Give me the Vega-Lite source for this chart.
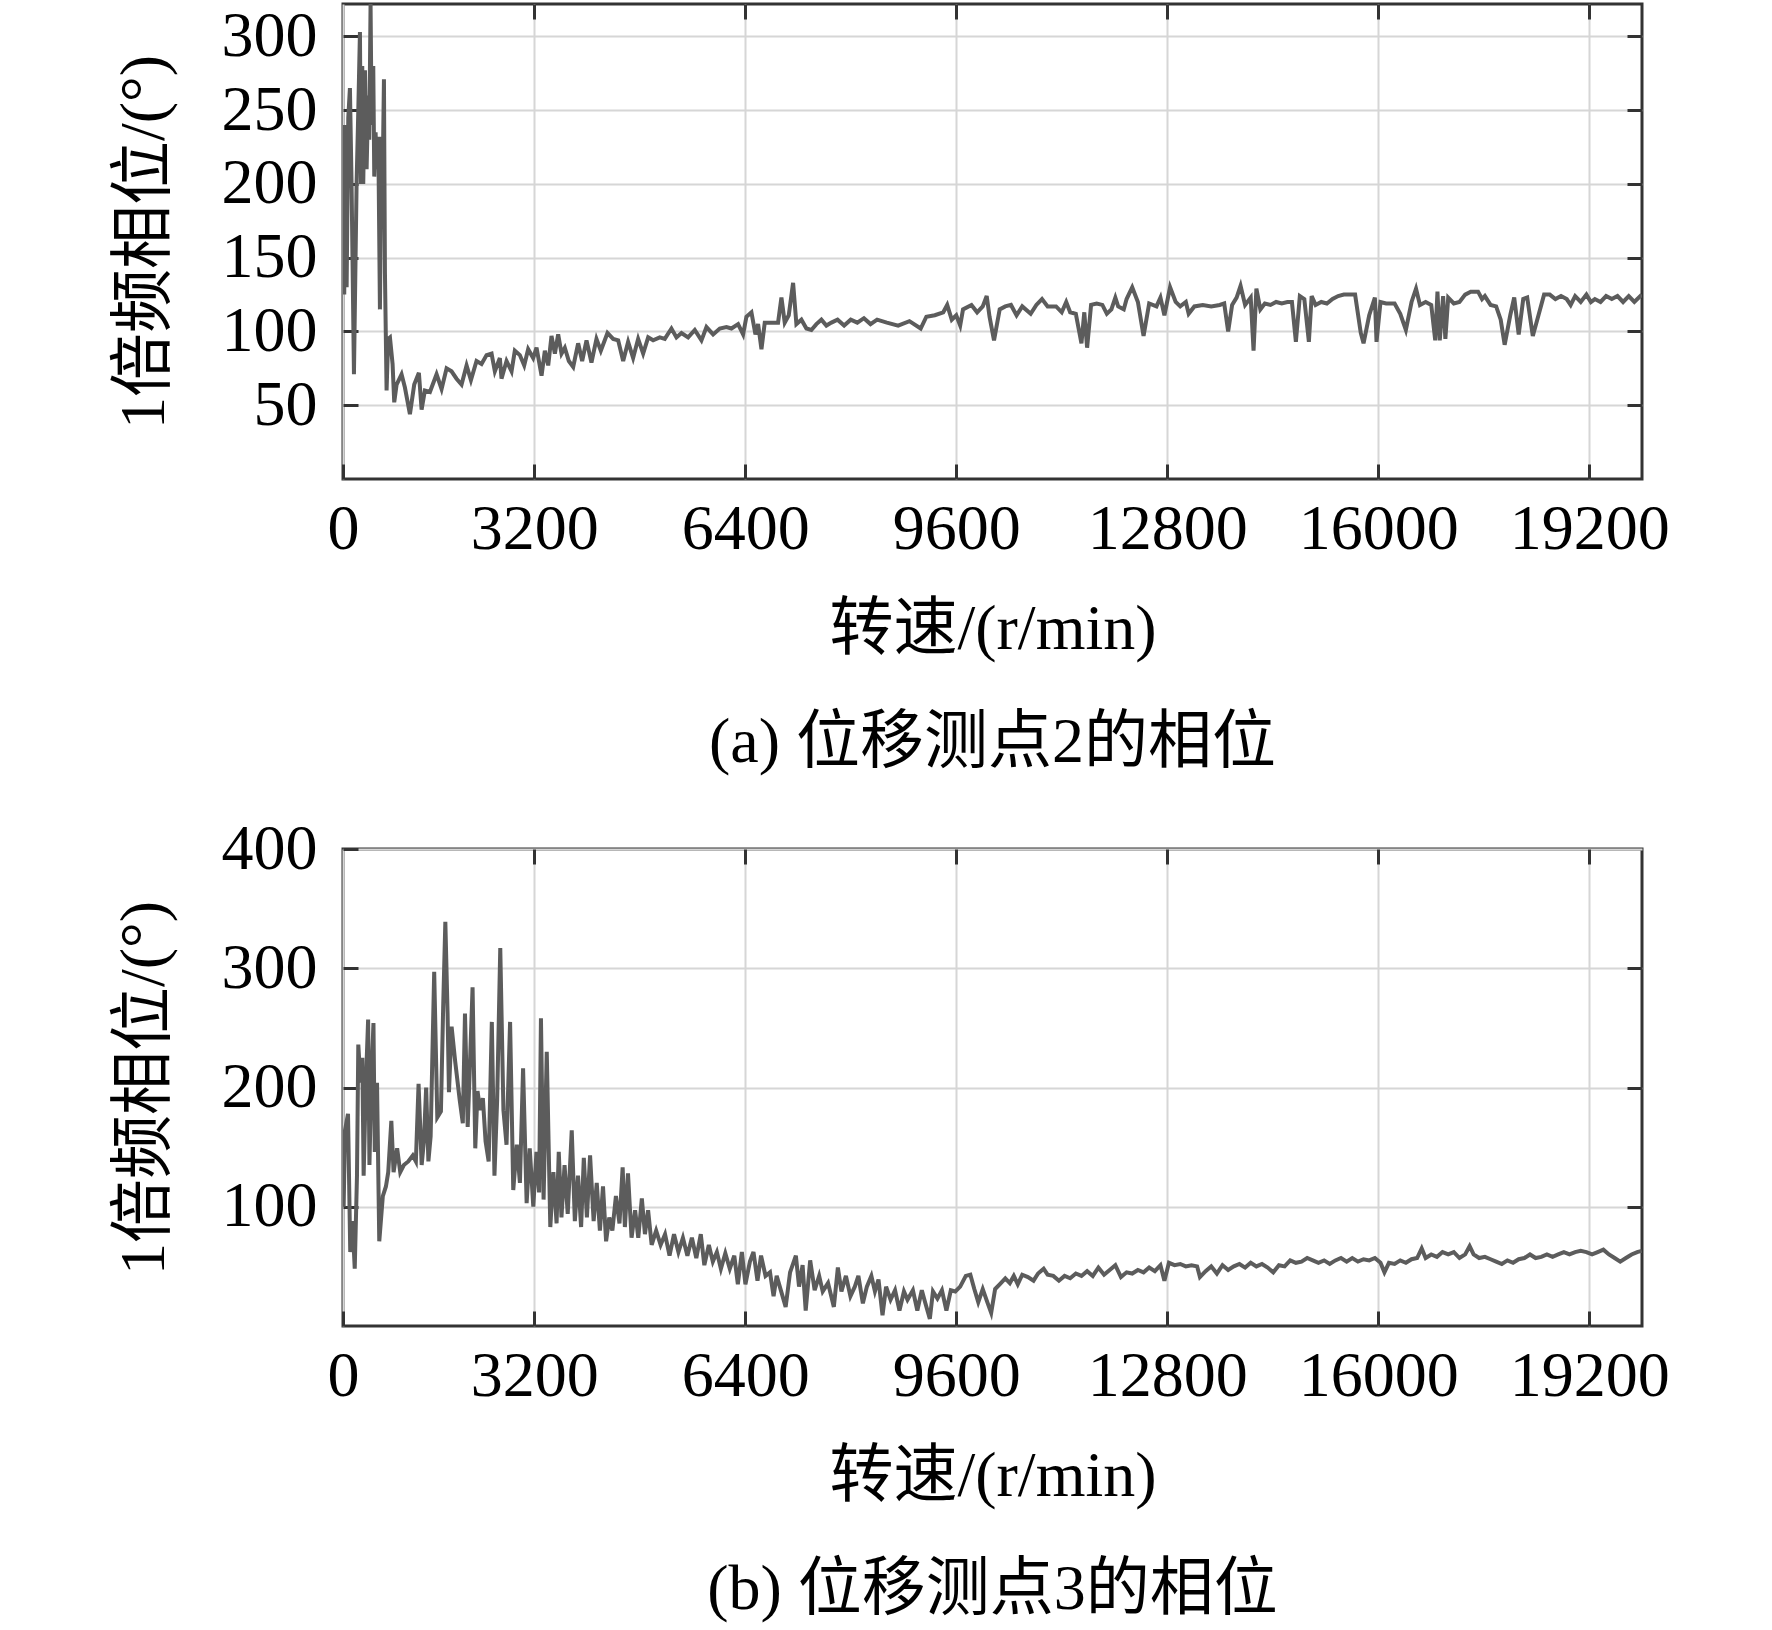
{
  "$schema": "https://vega.github.io/schema/vega-lite/v6.json",
  "background": "white",
  "padding": {"left": 110, "top": 1, "right": 40, "bottom": 5},
  "config": {
    "font": "Liberation Serif, Noto Sans CJK SC",
    "view": {"stroke": "#333333", "strokeWidth": 3},
    "axis": {
      "labelFont": "Liberation Serif, Noto Sans CJK SC",
      "labelFontSize": 64,
      "labelColor": "black",
      "labelFlush": false,
      "titleFont": "Liberation Serif, Noto Sans CJK SC",
      "titleFontSize": 64,
      "titleFontWeight": "normal",
      "titleColor": "black",
      "domain": false,
      "tickColor": "#333333",
      "tickWidth": 3,
      "tickSize": -15,
      "gridColor": "#d6d6d6",
      "gridWidth": 2
    },
    "title": {
      "font": "Liberation Serif, Noto Sans CJK SC",
      "fontSize": 64,
      "fontWeight": "normal",
      "color": "black"
    }
  },
  "datasets": {
    "a": [
      {"r":319,"p":125},{"r":329,"p":240},{"r":355,"p":130},{"r":380,"p":245},{"r":405,"p":265},{"r":430,"p":200},{"r":466,"p":71},{"r":506,"p":200},{"r":532,"p":250},{"r":557,"p":303},{"r":572,"p":200},{"r":592,"p":280},{"r":607,"p":200},{"r":633,"p":277},{"r":658,"p":210},{"r":683,"p":260},{"r":698,"p":230},{"r":718,"p":322},{"r":734,"p":240},{"r":759,"p":280},{"r":774,"p":205},{"r":794,"p":235},{"r":815,"p":210},{"r":835,"p":232},{"r":860,"p":115},{"r":885,"p":232},{"r":900,"p":200},{"r":921,"p":271},{"r":936,"p":140},{"r":961,"p":60},{"r":985,"p":95},{"r":1012,"p":96},{"r":1052,"p":78},{"r":1077,"p":52},{"r":1113,"p":64},{"r":1188,"p":71},{"r":1239,"p":62},{"r":1315,"p":44},{"r":1380,"p":64},{"r":1451,"p":72},{"r":1492,"p":47},{"r":1542,"p":60},{"r":1618,"p":59},{"r":1719,"p":71},{"r":1795,"p":61},{"r":1871,"p":75},{"r":1946,"p":73},{"r":2022,"p":68},{"r":2098,"p":64},{"r":2174,"p":77},{"r":2240,"p":67},{"r":2325,"p":80},{"r":2401,"p":78},{"r":2477,"p":84},{"r":2553,"p":85},{"r":2603,"p":73},{"r":2679,"p":82},{"r":2704,"p":68},{"r":2780,"p":80},{"r":2856,"p":73},{"r":2906,"p":87},{"r":2982,"p":84},{"r":3048,"p":77},{"r":3108,"p":88},{"r":3184,"p":82},{"r":3235,"p":89},{"r":3311,"p":70},{"r":3361,"p":87},{"r":3412,"p":77},{"r":3462,"p":97},{"r":3513,"p":85},{"r":3563,"p":98},{"r":3614,"p":85},{"r":3664,"p":89},{"r":3725,"p":80},{"r":3791,"p":76},{"r":3866,"p":92},{"r":3927,"p":80},{"r":3993,"p":94},{"r":4068,"p":79},{"r":4144,"p":95},{"r":4210,"p":87},{"r":4311,"p":99},{"r":4397,"p":95},{"r":4473,"p":94},{"r":4549,"p":80},{"r":4624,"p":93},{"r":4700,"p":82},{"r":4776,"p":95},{"r":4852,"p":85},{"r":4928,"p":96},{"r":5003,"p":94},{"r":5104,"p":96},{"r":5180,"p":95},{"r":5281,"p":102},{"r":5357,"p":96},{"r":5433,"p":99},{"r":5534,"p":96},{"r":5635,"p":101},{"r":5736,"p":94},{"r":5812,"p":103},{"r":5913,"p":98},{"r":6014,"p":102},{"r":6115,"p":103},{"r":6191,"p":102},{"r":6292,"p":105},{"r":6368,"p":98},{"r":6418,"p":110},{"r":6494,"p":113},{"r":6555,"p":98},{"r":6595,"p":105},{"r":6646,"p":88},{"r":6696,"p":106},{"r":6797,"p":106},{"r":6898,"p":106},{"r":6949,"p":123},{"r":6999,"p":106},{"r":7060,"p":111},{"r":7126,"p":133},{"r":7176,"p":105},{"r":7252,"p":108},{"r":7328,"p":102},{"r":7403,"p":101},{"r":7479,"p":105},{"r":7555,"p":108},{"r":7631,"p":104},{"r":7707,"p":106},{"r":7800,"p":108},{"r":7900,"p":104},{"r":8000,"p":108},{"r":8100,"p":106},{"r":8200,"p":109},{"r":8300,"p":105},{"r":8400,"p":108},{"r":8548,"p":106},
      {"r":8719,"p":104},{"r":8890,"p":107},{"r":9061,"p":102},{"r":9147,"p":110},{"r":9275,"p":111},{"r":9403,"p":113},{"r":9463,"p":118},{"r":9532,"p":108},{"r":9600,"p":111},{"r":9660,"p":104},{"r":9703,"p":115},{"r":9831,"p":118},{"r":9917,"p":113},{"r":10002,"p":117},{"r":10062,"p":124},{"r":10105,"p":110},{"r":10173,"p":94},{"r":10259,"p":115},{"r":10344,"p":117},{"r":10430,"p":118},{"r":10515,"p":111},{"r":10601,"p":117},{"r":10729,"p":112},{"r":10815,"p":118},{"r":10901,"p":122},{"r":10986,"p":117},{"r":11114,"p":117},{"r":11200,"p":113},{"r":11268,"p":120},{"r":11328,"p":113},{"r":11414,"p":112},{"r":11499,"p":92},{"r":11542,"p":113},{"r":11585,"p":89},{"r":11645,"p":118},{"r":11730,"p":119},{"r":11816,"p":118},{"r":11884,"p":112},{"r":11953,"p":115},{"r":12013,"p":123},{"r":12056,"p":117},{"r":12141,"p":115},{"r":12184,"p":122},{"r":12269,"p":130},{"r":12355,"p":120},{"r":12441,"p":97},{"r":12526,"p":119},{"r":12637,"p":117},{"r":12697,"p":123},{"r":12757,"p":111},{"r":12843,"p":130},{"r":12928,"p":120},{"r":12997,"p":117},{"r":13082,"p":120},{"r":13125,"p":112},{"r":13211,"p":117},{"r":13339,"p":118},{"r":13467,"p":117},{"r":13596,"p":118},{"r":13664,"p":119},{"r":13724,"p":100},{"r":13784,"p":118},{"r":13852,"p":123},{"r":13912,"p":131},{"r":13981,"p":118},{"r":14066,"p":123},{"r":14109,"p":87},{"r":14152,"p":129},{"r":14212,"p":115},{"r":14280,"p":119},{"r":14366,"p":118},{"r":14451,"p":120},{"r":14537,"p":119},{"r":14623,"p":120},{"r":14691,"p":120},{"r":14751,"p":93},{"r":14811,"p":124},{"r":14879,"p":122},{"r":14948,"p":93},{"r":14990,"p":124},{"r":15050,"p":118},{"r":15136,"p":120},{"r":15221,"p":119},{"r":15307,"p":122},{"r":15392,"p":124},{"r":15478,"p":125},{"r":15564,"p":125},{"r":15649,"p":125},{"r":15735,"p":99},{"r":15777,"p":92},{"r":15863,"p":111},{"r":15949,"p":123},{"r":15974,"p":93},{"r":16034,"p":120},{"r":16120,"p":119},{"r":16248,"p":119},{"r":16334,"p":112},{"r":16419,"p":101},{"r":16505,"p":120},{"r":16573,"p":129},{"r":16633,"p":118},{"r":16719,"p":120},{"r":16804,"p":118},{"r":16864,"p":94},{"r":16898,"p":127},{"r":16933,"p":94},{"r":16984,"p":124},{"r":17018,"p":95},{"r":17061,"p":123},{"r":17146,"p":119},{"r":17232,"p":120},{"r":17318,"p":125},{"r":17403,"p":127},{"r":17514,"p":127},{"r":17574,"p":122},{"r":17617,"p":124},{"r":17703,"p":118},{"r":17788,"p":117},{"r":17857,"p":108},{"r":17917,"p":91},{"r":18002,"p":111},{"r":18062,"p":123},{"r":18130,"p":98},{"r":18199,"p":122},{"r":18259,"p":123},{"r":18344,"p":97},{"r":18430,"p":111},{"r":18515,"p":125},{"r":18601,"p":125},{"r":18687,"p":122},{"r":18772,"p":124},{"r":18858,"p":122},{"r":18918,"p":118},{"r":18986,"p":124},{"r":19071,"p":120},{"r":19157,"p":125},{"r":19225,"p":120},{"r":19285,"p":122},{"r":19371,"p":120},{"r":19456,"p":124},{"r":19542,"p":122},{"r":19628,"p":124},{"r":19713,"p":120},{"r":19799,"p":124},{"r":19884,"p":120},{"r":19996,"p":125}
    ],
    "b": [
      {"r":310,"p":100},{"r":330,"p":164},{"r":376,"p":178},{"r":410,"p":62},{"r":444,"p":88},{"r":478,"p":48},{"r":512,"p":126},{"r":532,"p":236},{"r":566,"p":204},{"r":593,"p":225},{"r":613,"p":126},{"r":647,"p":204},{"r":681,"p":257},{"r":701,"p":135},{"r":728,"p":204},{"r":762,"p":254},{"r":782,"p":146},{"r":816,"p":204},{"r":850,"p":71},{"r":904,"p":109},{"r":951,"p":117},{"r":986,"p":129},{"r":1033,"p":172},{"r":1067,"p":129},{"r":1121,"p":149},{"r":1168,"p":129},{"r":1223,"p":135},{"r":1290,"p":138},{"r":1358,"p":143},{"r":1405,"p":138},{"r":1446,"p":203},{"r":1493,"p":135},{"r":1527,"p":155},{"r":1561,"p":200},{"r":1595,"p":138},{"r":1629,"p":159},{"r":1683,"p":297},{"r":1730,"p":175},{"r":1785,"p":180},{"r":1819,"p":267},{"r":1852,"p":339},{"r":1886,"p":262},{"r":1907,"p":196},{"r":1947,"p":251},{"r":2001,"p":222},{"r":2069,"p":190},{"r":2117,"p":170},{"r":2150,"p":262},{"r":2191,"p":167},{"r":2225,"p":219},{"r":2265,"p":284},{"r":2306,"p":149},{"r":2340,"p":197},{"r":2381,"p":181},{"r":2421,"p":191},{"r":2462,"p":155},{"r":2509,"p":138},{"r":2557,"p":255},{"r":2597,"p":126},{"r":2638,"p":190},{"r":2685,"p":317},{"r":2733,"p":181},{"r":2780,"p":152},{"r":2834,"p":255},{"r":2882,"p":114},{"r":2936,"p":152},{"r":2983,"p":120},{"r":3031,"p":216},{"r":3085,"p":103},{"r":3132,"p":149},{"r":3186,"p":100},{"r":3234,"p":146},{"r":3274,"p":112},{"r":3302,"p":258},{"r":3342,"p":106},{"r":3390,"p":230},{"r":3444,"p":83},{"r":3491,"p":129},{"r":3539,"p":86},{"r":3572,"p":146},{"r":3613,"p":91},{"r":3660,"p":135},{"r":3708,"p":94},{"r":3769,"p":164},{"r":3816,"p":88},{"r":3864,"p":126},{"r":3911,"p":83},{"r":3952,"p":141},{"r":3999,"p":91},{"r":4047,"p":143},{"r":4101,"p":88},{"r":4148,"p":120},{"r":4196,"p":80},{"r":4243,"p":117},{"r":4290,"p":71},{"r":4338,"p":91},{"r":4385,"p":80},{"r":4439,"p":109},{"r":4493,"p":86},{"r":4541,"p":133},{"r":4575,"p":83},{"r":4622,"p":128},{"r":4676,"p":74},{"r":4730,"p":97},{"r":4778,"p":74},{"r":4832,"p":107},{"r":4879,"p":77},{"r":4927,"p":97},{"r":4981,"p":68},{"r":5049,"p":80},{"r":5117,"p":68},{"r":5184,"p":77},{"r":5252,"p":59},{"r":5320,"p":77},{"r":5387,"p":62},{"r":5455,"p":74},{"r":5523,"p":59},{"r":5591,"p":74},{"r":5658,"p":57},{"r":5726,"p":77},{"r":5780,"p":51},{"r":5848,"p":68},{"r":5909,"p":54},{"r":5970,"p":62},{"r":6031,"p":48},{"r":6098,"p":61},{"r":6166,"p":48},{"r":6234,"p":59},{"r":6288,"p":35},{"r":6349,"p":62},{"r":6403,"p":35},{"r":6471,"p":54},{"r":6525,"p":62},{"r":6586,"p":38},{"r":6640,"p":59},{"r":6708,"p":42},{"r":6776,"p":45},{"r":6830,"p":25},{"r":6877,"p":42},{"r":6945,"p":29},{"r":7013,"p":16},{"r":7080,"p":45},{"r":7168,"p":59},{"r":7216,"p":33},{"r":7270,"p":51},{"r":7317,"p":13},{"r":7385,"p":55},{"r":7453,"p":30},{"r":7521,"p":42},{"r":7575,"p":29},{"r":7656,"p":36},{"r":7744,"p":16},{"r":7805,"p":49},{"r":7859,"p":29},{"r":7927,"p":42},{"r":7995,"p":25},{"r":8062,"p":33},{"r":8116,"p":42},{"r":8184,"p":19},{"r":8245,"p":33},{"r":8313,"p":42},{"r":8367,"p":29},{"r":8421,"p":39},{"r":8482,"p":9},{"r":8536,"p":33},{"r":8604,"p":22},{"r":8672,"p":30},{"r":8739,"p":13},{"r":8807,"p":29},{"r":8861,"p":22},{"r":8943,"p":30},{"r":9010,"p":13},{"r":9078,"p":30},{"r":9132,"p":19},{"r":9200,"p":6},{"r":9247,"p":29},{"r":9315,"p":23},{"r":9383,"p":30},{"r":9451,"p":13},{"r":9518,"p":30},{"r":9586,"p":29},
      {"r":9660,"p":33},{"r":9745,"p":42},{"r":9814,"p":43},{"r":9874,"p":31},{"r":9934,"p":20},{"r":10002,"p":31},{"r":10071,"p":20},{"r":10130,"p":11},{"r":10190,"p":31},{"r":10259,"p":35},{"r":10344,"p":40},{"r":10413,"p":36},{"r":10473,"p":42},{"r":10533,"p":35},{"r":10601,"p":43},{"r":10687,"p":41},{"r":10772,"p":38},{"r":10841,"p":44},{"r":10926,"p":48},{"r":10986,"p":43},{"r":11072,"p":42},{"r":11157,"p":38},{"r":11243,"p":42},{"r":11328,"p":40},{"r":11414,"p":44},{"r":11499,"p":42},{"r":11585,"p":46},{"r":11671,"p":42},{"r":11756,"p":49},{"r":11842,"p":43},{"r":11927,"p":47},{"r":12013,"p":51},{"r":12098,"p":41},{"r":12184,"p":45},{"r":12269,"p":44},{"r":12355,"p":47},{"r":12441,"p":45},{"r":12526,"p":49},{"r":12612,"p":46},{"r":12697,"p":51},{"r":12757,"p":38},{"r":12826,"p":53},{"r":12911,"p":51},{"r":12997,"p":52},{"r":13082,"p":50},{"r":13168,"p":51},{"r":13253,"p":50},{"r":13296,"p":41},{"r":13382,"p":46},{"r":13467,"p":50},{"r":13553,"p":44},{"r":13638,"p":51},{"r":13724,"p":47},{"r":13810,"p":50},{"r":13895,"p":52},{"r":13981,"p":49},{"r":14066,"p":53},{"r":14152,"p":50},{"r":14237,"p":52},{"r":14323,"p":49},{"r":14408,"p":45},{"r":14494,"p":51},{"r":14580,"p":50},{"r":14665,"p":55},{"r":14751,"p":53},{"r":14836,"p":54},{"r":14922,"p":57},{"r":15007,"p":55},{"r":15093,"p":53},{"r":15179,"p":55},{"r":15264,"p":52},{"r":15350,"p":55},{"r":15435,"p":57},{"r":15521,"p":54},{"r":15606,"p":57},{"r":15692,"p":54},{"r":15777,"p":56},{"r":15863,"p":55},{"r":15949,"p":57},{"r":16034,"p":53},{"r":16094,"p":45},{"r":16162,"p":53},{"r":16248,"p":52},{"r":16334,"p":55},{"r":16419,"p":53},{"r":16505,"p":56},{"r":16590,"p":57},{"r":16659,"p":65},{"r":16719,"p":57},{"r":16804,"p":60},{"r":16890,"p":58},{"r":16975,"p":62},{"r":17061,"p":60},{"r":17146,"p":62},{"r":17232,"p":57},{"r":17318,"p":60},{"r":17386,"p":67},{"r":17446,"p":60},{"r":17531,"p":57},{"r":17617,"p":58},{"r":17703,"p":56},{"r":17788,"p":54},{"r":17874,"p":52},{"r":17959,"p":55},{"r":18045,"p":53},{"r":18130,"p":56},{"r":18216,"p":57},{"r":18301,"p":60},{"r":18387,"p":57},{"r":18473,"p":58},{"r":18558,"p":60},{"r":18644,"p":58},{"r":18729,"p":60},{"r":18815,"p":62},{"r":18900,"p":60},{"r":18986,"p":62},{"r":19071,"p":63},{"r":19157,"p":62},{"r":19243,"p":60},{"r":19328,"p":62},{"r":19414,"p":64},{"r":19499,"p":60},{"r":19585,"p":57},{"r":19670,"p":54},{"r":19756,"p":57},{"r":19842,"p":60},{"r":19927,"p":62},{"r":19996,"p":63}
    ]
  },
  "spacing": 38,
  "vconcat": [
    {
      "width": 1299,
      "height": 475,
      "title": {"text": "(a) 位移测点2的相位", "orient": "bottom", "offset": 50},
      "data": {"name": "a"},
      "layer": [
        {
          "mark": {"type": "line", "color": "#5c5c5c", "strokeWidth": 4, "clip": true},
          "encoding": {
            "x": {
              "field": "r", "type": "quantitative",
              "scale": {"domain": [300, 20000], "nice": false, "zero": false},
              "axis": {
                "values": [300, 3200, 6400, 9600, 12800, 16000, 19200],
                "labelExpr": "datum.value < 1000 ? '0' : format(datum.value, 'd')",
                "title": "转速/(r/min)",
                "labelPadding": 33,
                "titlePadding": 36
              }
            },
            "y": {
              "field": "p", "type": "quantitative",
              "scale": {"domain": [0, 322], "nice": false},
              "axis": {
                "values": [50, 100, 150, 200, 250, 300],
                "title": "1倍频相位/(°)",
                "labelPadding": 41,
                "titlePadding": 45
              }
            }
          }
        },
        {
          "mark": {"type": "line", "opacity": 0},
          "encoding": {
            "x": {
              "field": "r", "type": "quantitative",
              "scale": {"domain": [300, 20000], "nice": false, "zero": false},
              "axis": {"orient": "top", "values": [3200, 6400, 9600, 12800, 16000, 19200], "labels": false, "title": null, "grid": false}
            },
            "y": {
              "field": "p", "type": "quantitative",
              "scale": {"domain": [0, 322], "nice": false},
              "axis": {"orient": "right", "values": [50, 100, 150, 200, 250, 300], "labels": false, "title": null, "grid": false}
            }
          }
        }
      ],
      "resolve": {"axis": {"x": "independent", "y": "independent"}}
    },
    {
      "width": 1299,
      "height": 477,
      "title": {"text": "(b) 位移测点3的相位", "orient": "bottom", "offset": 50},
      "data": {"name": "b"},
      "layer": [
        {
          "mark": {"type": "line", "color": "#5c5c5c", "strokeWidth": 4, "clip": true},
          "encoding": {
            "x": {
              "field": "r", "type": "quantitative",
              "scale": {"domain": [300, 20000], "nice": false, "zero": false},
              "axis": {
                "values": [300, 3200, 6400, 9600, 12800, 16000, 19200],
                "labelExpr": "datum.value < 1000 ? '0' : format(datum.value, 'd')",
                "title": "转速/(r/min)",
                "labelPadding": 33,
                "titlePadding": 36
              }
            },
            "y": {
              "field": "p", "type": "quantitative",
              "scale": {"domain": [0, 400], "nice": false},
              "axis": {
                "values": [100, 200, 300, 400],
                "title": "1倍频相位/(°)",
                "labelPadding": 41,
                "titlePadding": 45
              }
            }
          }
        },
        {
          "mark": {"type": "line", "opacity": 0},
          "encoding": {
            "x": {
              "field": "r", "type": "quantitative",
              "scale": {"domain": [300, 20000], "nice": false, "zero": false},
              "axis": {"orient": "top", "values": [3200, 6400, 9600, 12800, 16000, 19200], "labels": false, "title": null, "grid": false}
            },
            "y": {
              "field": "p", "type": "quantitative",
              "scale": {"domain": [0, 400], "nice": false},
              "axis": {"orient": "right", "values": [100, 200, 300], "labels": false, "title": null, "grid": false}
            }
          }
        }
      ],
      "resolve": {"axis": {"x": "independent", "y": "independent"}}
    }
  ]
}
